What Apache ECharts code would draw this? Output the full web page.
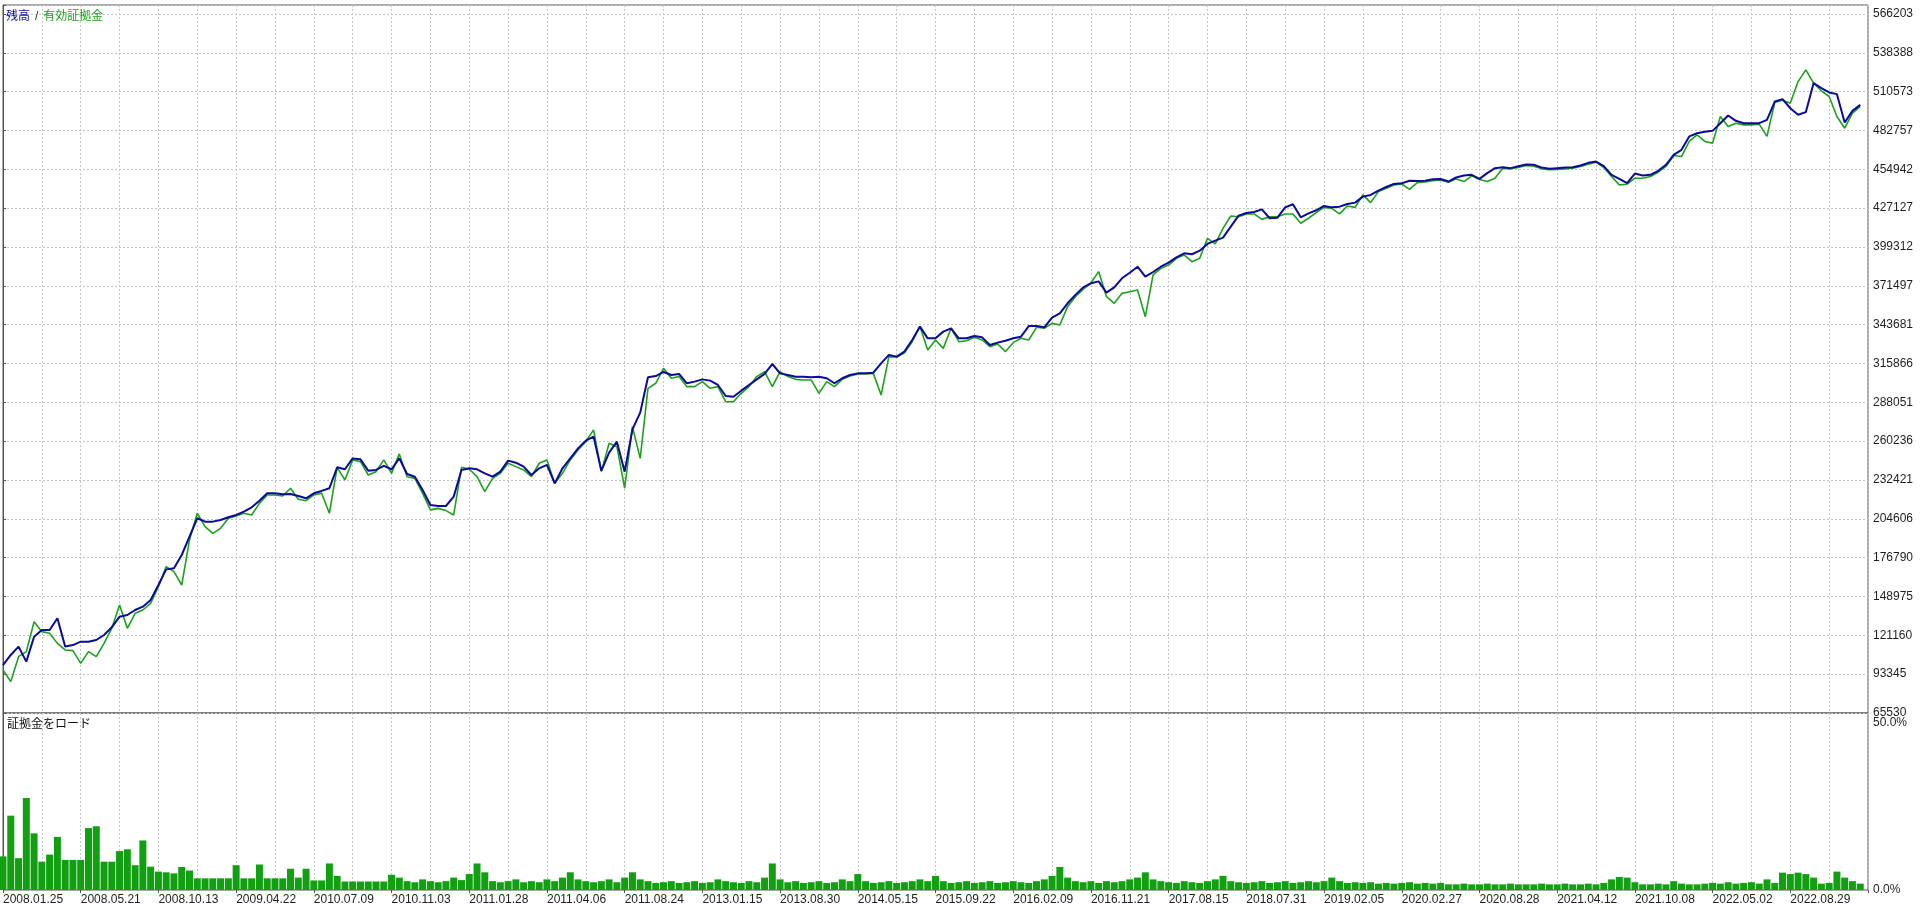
<!DOCTYPE html>
<html>
<head>
<meta charset="utf-8">
<title>残高 / 有効証拠金</title>
<script src="https://cdn.jsdelivr.net/npm/echarts@6/dist/echarts.min.js"></script>
<style>
  html, body { margin: 0; padding: 0; background: #fff; }
  #chart { width: 1920px; height: 909px; }
</style>
</head>
<body>
<div id="chart"></div>
<script>
// tick labels
const dates = ["2008.01.25", "2008.05.21", "2008.10.13", "2009.04.22", "2010.07.09", "2010.11.03",
  "2011.01.28", "2011.04.06", "2011.08.24", "2013.01.15", "2013.08.30", "2014.05.15",
  "2015.09.22", "2016.02.09", "2016.11.21", "2017.08.15", "2018.07.31", "2019.02.05",
  "2020.02.27", "2020.08.28", "2021.04.12", "2021.10.08", "2022.05.02", "2022.08.29"];
const yTicks = [65530, 93345, 121160, 148975, 176790, 204606, 232421, 260236, 288051, 315866,
  343681, 371497, 399312, 427127, 454942, 482757, 510573, 538388, 566203];

// balance (残高), one value per step of the deal axis
const balance = [
  99900, 107100, 113100, 102300, 120200, 125000, 125000, 133400, 113100, 114200,
  116600, 116600, 117800, 121400, 126900, 134500, 135700, 139300, 141700, 146500,
  157200, 168400, 169200, 178700, 191800, 205000, 202600, 202600, 203800, 205700,
  207400, 209800, 212900, 217600, 222900, 222900, 222200, 222400, 221000, 219300,
  222900, 224600, 226500, 241500, 240100, 247900, 247200, 239100, 239600, 242500,
  240100, 247900, 236700, 234800, 225300, 214500, 213800, 213800, 220500, 239600,
  240800, 240100, 237200, 234800, 238400, 246300, 244800, 242000, 236000, 240800,
  243200, 230000, 240800, 247900, 255100, 260600, 263500, 239100, 252000, 259900,
  238400, 268700, 280700, 306000, 306900, 309800, 307600, 308400, 301700, 302900,
  304500, 303600, 300500, 292600, 292100, 296400, 300500, 304500, 308400, 315500,
  308800, 307600, 306400, 306400, 306000, 306400, 305300, 301700, 305300, 307600,
  308800, 308800, 309300, 316000, 322000, 320800, 324400, 332700, 342300, 333900,
  333900, 338700, 341000, 333900, 333900, 335600, 334600, 329100, 330800, 332200,
  333900, 335100, 342700, 342700, 341800, 348700, 351800, 359000, 365000, 370400,
  373300, 374700, 366600, 370400, 376900, 380900, 385200, 378100, 381400, 385200,
  388100, 391900, 394800, 394100, 396700, 401500, 403900, 406000, 413900, 421800,
  423700, 424400, 426300, 419900, 420300, 427700, 429900, 420600, 423400, 425600,
  428700, 427700, 428200, 430100, 431100, 435400, 436600, 439700, 442300, 444500,
  444900, 446800, 446600, 446800, 447800, 448000, 446200, 449100, 450500, 451000,
  448100, 452200, 455800, 456500, 455800, 457200, 458400, 458200, 456200, 455300,
  455800, 456200, 456500, 457700, 459600, 460500, 457200, 451000, 448100, 445000,
  451900, 450500, 451000, 453900, 458200, 465300, 468900, 478500, 480800, 481800,
  482500, 488000, 493500, 489700, 488000, 488000, 488000, 490400, 503500, 505200,
  498700, 494000, 495900, 516700, 513100, 510000, 508800, 488500, 496800, 501100
];

// equity (有効証拠金)
const equity = [
  96300, 88000, 105900, 109500, 130900, 123800, 122600, 115400, 110700, 110200,
  101100, 109500, 105900, 115400, 126200, 142900, 126200, 136900, 139300, 144100,
  156000, 170400, 166800, 157200, 189500, 208600, 199000, 194200, 197800, 205000,
  206600, 208600, 207400, 215700, 221700, 221700, 221000, 226500, 218600, 217600,
  221700, 222900, 208600, 241500, 232400, 246800, 245600, 236000, 238400, 246800,
  237200, 251100, 234800, 233600, 222900, 211000, 212100, 210500, 207400, 241500,
  240100, 234800, 224100, 233600, 237200, 244400, 242000, 239600, 234800, 244400,
  246800, 230000, 237200, 246800, 253900, 259900, 268300, 238400, 258700, 256300,
  226500, 270600, 247900, 298100, 301700, 312400, 305300, 306500, 299300, 299300,
  302900, 298100, 299300, 288500, 288500, 294500, 299300, 306500, 310000, 299300,
  310000, 306500, 304500, 304100, 304100, 294500, 302900, 299300, 304500, 306900,
  308400, 308400, 308800, 293300, 320800, 320300, 323600, 331500, 342300, 325600,
  332700, 326700, 341100, 331500, 332200, 334600, 332700, 327900, 329800, 324400,
  330800, 333900, 332700, 341800, 341100, 344600, 343400, 356600, 363700, 369000,
  373700, 381700, 363700, 359000, 366100, 367300, 368500, 349400, 379300, 384000,
  386400, 391200, 393600, 388800, 391200, 405500, 401500, 412700, 421500, 421000,
  423000, 423000, 419100, 421000, 421000, 423000, 423000, 416300, 419900, 423900,
  427700, 427000, 423000, 428700, 427700, 436600, 431100, 439000, 441300, 443700,
  444500, 440600, 445400, 445900, 446800, 447300, 445700, 448100, 446200, 450300,
  447700, 446200, 448600, 455800, 455300, 456200, 457700, 457200, 455300, 454600,
  454800, 455300, 455800, 457000, 458600, 460100, 456200, 449800, 443800, 444300,
  448600, 448600, 449800, 452900, 457000, 464900, 464100, 474900, 479600, 474900,
  473700, 492800, 485600, 488000, 486800, 486800, 487300, 478500, 502800, 504500,
  502300, 517800, 526200, 516700, 511200, 507100, 492800, 484400, 495200, 499900
];

// 証拠金をロード, percent
const marginLoad = [
  9.5, 21, 9.0, 26, 16, 8, 10, 15, 8.5, 8.5,
  8.5, 17.5, 18, 8, 8, 11, 11.5, 7, 14, 6.6,
  5.2, 5, 4.7, 6.5, 5.5, 3.3, 3.3, 3.3, 3.3, 3.3,
  7, 3.3, 3.3, 7.2, 3.3, 3.3, 3.3, 6, 3.5, 6,
  2.7, 2.7, 7.5, 4, 2.4, 2.4, 2.4, 2.4, 2.4, 2.4,
  4.3, 3.5, 2.5, 2.2, 3.0, 2.5, 2.2, 2.5, 3.5, 2.8,
  4.5, 7.5, 5.0, 2.5, 2.2, 2.5, 3.0, 2.2, 2.5, 2.2,
  3.0, 2.5, 3.5, 5.0, 3.0, 2.5, 2.2, 2.5, 3.0, 2.2,
  3.5, 5.0, 3.0, 2.5, 2.0, 2.2, 2.5, 2.0, 2.2, 2.5,
  2.0, 2.2, 3.0, 2.5, 2.2, 2.0, 2.5, 2.2, 3.5, 7.5,
  3.0, 2.2, 2.5, 2.0, 2.2, 2.5, 2.0, 2.2, 3.0, 2.5,
  4.5, 2.5, 2.0, 2.2, 2.5, 2.0, 2.2, 2.5, 3.0, 2.5,
  4.0, 2.5, 2.0, 2.2, 2.5, 2.0, 2.2, 2.5, 2.0, 2.2,
  2.5, 2.2, 2.0, 2.5, 3.0, 4.0, 6.5, 3.5, 2.5, 2.2,
  2.5, 2.0, 2.5, 2.2, 2.5, 3.0, 3.5, 5.0, 3.0, 2.5,
  2.2, 2.0, 2.5, 2.2, 2.0, 2.5, 3.0, 4.0, 2.5, 2.2,
  2.0, 2.2, 2.5, 2.0, 2.2, 2.5, 2.0, 2.2, 2.5, 2.2,
  2.5, 3.5, 2.5, 2.0, 2.2, 2.0, 2.2, 1.8, 2.0, 1.8,
  2.0, 2.2, 1.8, 2.0, 1.8, 2.0, 1.6, 1.6, 1.8, 1.6,
  1.6, 1.8, 1.6, 1.6, 1.8, 1.6, 1.6, 1.6, 1.8, 1.6,
  1.6, 1.8, 1.6, 1.6, 1.8, 1.6, 2.0, 3.0, 3.7, 3.5,
  2.2, 1.6, 1.6, 1.8, 1.6, 2.5, 1.8, 1.6, 1.6, 1.8,
  2.0, 1.8, 2.2, 1.8, 2.0, 2.2, 1.8, 3.0, 2.0, 4.9,
  4.5, 4.9, 4.5, 3.5, 1.8, 2.0, 5.2, 3.5, 2.5, 1.8
];

const yMin = yTicks[0];
const yStep = (yTicks[yTicks.length - 1] - yTicks[0]) / (yTicks.length - 1);
const steps = 240;

const font = "'Liberation Sans', 'Noto Sans CJK JP', sans-serif";
const gridLine = { color: "#c4c4c4", type: [2, 2], width: 1 };
const labelColor = "#1e1e1e";

const chart = echarts.init(document.getElementById("chart"));

const xBase = {
  type: "value",
  min: 0,
  max: steps,
  interval: 10,
  axisLine: { show: false },
  splitLine: { show: true, lineStyle: gridLine },
  minorTick: { show: false, splitNumber: 2 },
  minorSplitLine: { show: true, lineStyle: gridLine },
};

chart.setOption({
  animation: false,
  backgroundColor: "#fff",
  textStyle: { fontFamily: font },
  title: [
    {
      text: "{a|残高} {s|/} {b|有効証拠金}",
      left: 6,
      top: 8,
      padding: 0,
      textStyle: {
        fontFamily: font,
        fontWeight: "normal",
        rich: {
          a: { color: "#0b0b8c", fontSize: 12, fontWeight: "normal", fontFamily: font },
          s: { color: "#333", fontSize: 12, fontWeight: "normal", fontFamily: font },
          b: { color: "#1ea01e", fontSize: 12, fontWeight: "normal", fontFamily: font },
        },
      },
    },
    {
      text: "証拠金をロード",
      left: 7,
      top: 719,
      padding: 0,
      textStyle: { color: "#111", fontSize: 12, fontWeight: "normal", fontFamily: font },
    },
  ],
  grid: [
    { left: 3, right: 52, top: 5, height: 708, show: true, borderColor: "#555", borderWidth: 1 },
    { left: 3, right: 52, top: 713, height: 177, show: true, borderColor: "#555", borderWidth: 1 },
  ],
  xAxis: [
    Object.assign({}, xBase, {
      gridIndex: 0,
      axisTick: { show: false },
      axisLabel: { show: false },
    }),
    Object.assign({}, xBase, {
      gridIndex: 1,
      axisTick: { show: true, length: 3, lineStyle: { color: "#555" } },
      axisLabel: {
        show: true,
        align: "left",
        margin: 4,
        color: labelColor,
        fontSize: 12,
        fontFamily: font,
        formatter: (v) => (v % 10 === 0 && dates[v / 10]) || "",
      },
    }),
  ],
  yAxis: [
    {
      gridIndex: 0,
      type: "value",
      position: "right",
      min: yMin,
      max: 572650,
      interval: yStep,
      axisLine: { show: true, lineStyle: { color: "#555" } },
      axisTick: { show: true, length: 3, lineStyle: { color: "#555" } },
      splitLine: { show: true, lineStyle: gridLine },
      axisLabel: {
        margin: 5,
        color: labelColor,
        fontSize: 12,
        fontFamily: font,
        formatter: (v) => {
          const k = (v - yMin) / yStep;
          const r = Math.round(k);
          return Math.abs(k - r) < 1e-3 && r < yTicks.length ? String(yTicks[r]) : "";
        },
      },
    },
    {
      gridIndex: 1,
      type: "value",
      position: "right",
      min: 0,
      max: 50,
      interval: 50,
      axisLine: { show: true, lineStyle: { color: "#555" } },
      axisTick: { show: false },
      splitLine: { show: false },
      axisLabel: {
        margin: 5,
        color: labelColor,
        fontSize: 12,
        fontFamily: font,
        formatter: (v) => (v === 50 ? "{t|50.0%}" : v === 0 ? "0.0%" : ""),
        rich: { t: { padding: [20, 0, 0, 0], fontSize: 12, color: labelColor, fontFamily: font } },
      },
    },
  ],
  series: [
    {
      name: "有効証拠金",
      type: "line",
      xAxisIndex: 0,
      yAxisIndex: 0,
      data: equity.map((v, i) => [i, v]),
      symbol: "none",
      lineStyle: { color: "#1ea01e", width: 1.6 },
      itemStyle: { color: "#1ea01e" },
      z: 2,
    },
    {
      name: "残高",
      type: "line",
      xAxisIndex: 0,
      yAxisIndex: 0,
      data: balance.map((v, i) => [i, v]),
      symbol: "none",
      lineStyle: { color: "#0b0b96", width: 2 },
      itemStyle: { color: "#0b0b96" },
      z: 3,
    },
    {
      name: "証拠金をロード",
      type: "bar",
      xAxisIndex: 1,
      yAxisIndex: 1,
      data: marginLoad.map((v, i) => [i, v]),
      barWidth: 7,
      itemStyle: { color: "#12a012" },
    },
  ],
});
</script>
</body>
</html>
